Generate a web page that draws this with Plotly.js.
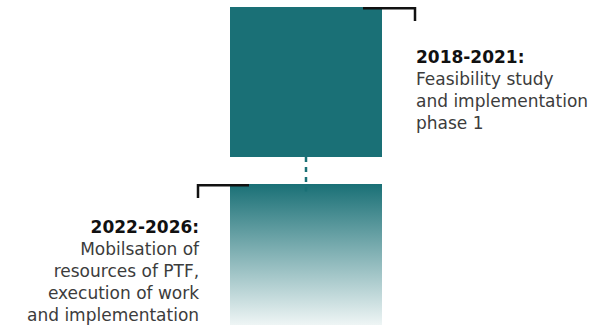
<!DOCTYPE html>
<html>
<head>
<meta charset="utf-8">
<script src="https://cdn.plot.ly/plotly-3.0.1.min.js"></script>
<style>html,body{margin:0;padding:0;background:#fff;}#chart{width:598px;height:325px;}</style>
</head>
<body>
<div id="chart"></div>
<script>
// Data: timeline phases (y axis in years, reversed; top = earlier)
var phases = ["2018-2021", "2022-2026"];
var phaseStart = [2018, 2022.72];
var phaseEnd = [2022, 2027];
var phaseTitles = ["2018-2021:", "2022-2026:"];
var phaseTexts = [
  ["Feasibility study", "and implementation", "phase 1"],
  ["Mobilsation of", "resources of PTF,", "execution of work", "and implementation"]
];

// Styles
var TEAL = "#1a7076";
var BAR_X = 306, BAR_HALF = 76;
var yRange = [2026.48, 2017.813];
var FONT = "DejaVu Sans";

var traces = [];
// Top bar (solid)
traces.push({
  type: "scatter", mode: "lines",
  x: [BAR_X - BAR_HALF, BAR_X + BAR_HALF, BAR_X + BAR_HALF, BAR_X - BAR_HALF, BAR_X - BAR_HALF],
  y: [phaseStart[0], phaseStart[0], phaseEnd[0], phaseEnd[0], phaseStart[0]],
  fill: "toself", fillcolor: TEAL, line: {width: 0}, hoverinfo: "skip", name: phases[0]
});
// Bottom bar (gradient)
traces.push({
  type: "scatter", mode: "lines",
  x: [BAR_X - BAR_HALF, BAR_X + BAR_HALF, BAR_X + BAR_HALF, BAR_X - BAR_HALF, BAR_X - BAR_HALF],
  y: [phaseStart[1], phaseStart[1], phaseEnd[1], phaseEnd[1], phaseStart[1]],
  fill: "toself", line: {width: 0}, hoverinfo: "skip", name: phases[1],
  fillgradient: {type: "vertical", start: phaseStart[1], stop: yRange[0],
    colorscale: [[0, TEAL], [1, "#eef5f5"]]}
});
// Dashed connector
traces.push({
  type: "scatter", mode: "lines",
  x: [BAR_X, BAR_X], y: [phaseEnd[0], phaseStart[1] + 0.2],
  line: {color: TEAL, width: 2.5, dash: "5px,5px"}, hoverinfo: "skip"
});
// Brackets
var bk = {color: "#111", width: 2.5};
traces.push({
  type: "scatter", mode: "lines",
  x: [BAR_X + 57, BAR_X + 109, BAR_X + 109],
  y: [phaseStart[0] + 0.03, phaseStart[0] + 0.03, phaseStart[0] + 0.37],
  line: bk, hoverinfo: "skip"
});
traces.push({
  type: "scatter", mode: "lines",
  x: [BAR_X - 57, BAR_X - 108, BAR_X - 108],
  y: [phaseStart[1] + 0.03, phaseStart[1] + 0.03, phaseStart[1] + 0.37],
  line: bk, hoverinfo: "skip"
});

function label(i) {
  return "<b>" + phaseTitles[i] + "</b><br>" +
    phaseTexts[i].map(function (t) { return "<span style='color:#3c3c3c'>" + t + "</span>"; }).join("<br>");
}

var layout = {
  width: 598, height: 325,
  margin: {l: 0, r: 0, t: 0, b: 0},
  paper_bgcolor: "#fff", plot_bgcolor: "#fff",
  showlegend: false,
  xaxis: {range: [0, 598], visible: false, fixedrange: true},
  yaxis: {range: yRange, visible: false, fixedrange: true},
  annotations: [
    {xref: "x", yref: "y", x: BAR_X + 108, y: phaseStart[0] + 1.0, xanchor: "left", yanchor: "top",
     align: "left", showarrow: false, text: label(0), font: {family: FONT, size: 17, color: "#111"}},
    {xref: "x", yref: "y", x: BAR_X - 104, y: phaseStart[1] + 0.83, xanchor: "right", yanchor: "top",
     align: "right", showarrow: false, text: label(1), font: {family: FONT, size: 17, color: "#111"}}
  ]
};

Plotly.newPlot("chart", traces, layout, {displayModeBar: false, staticPlot: true});
</script>
</body>
</html>
